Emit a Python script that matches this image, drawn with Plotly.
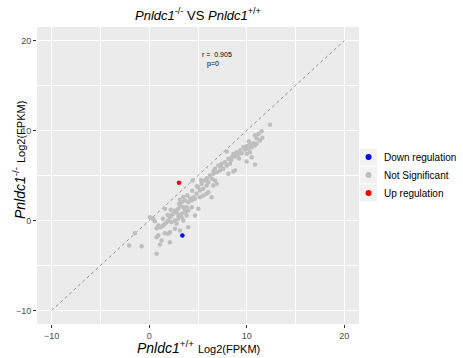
import plotly.graph_objects as go

# ---- data ----
ns_x = [12.38, 11.52, 10.84, 11.01, 11.59, 11.35, 10.67, 10.33, 9.99, 9.64, 9.82, 10.16, 10.50, 10.84, 11.01,
        9.30, 8.96, 8.62, 8.45, 8.79, 9.13, 9.47, 9.99, 10.33, 7.94, 9.99, 10.84, 10.50, 8.11, 7.76, 7.42,
        7.08, 6.74, 6.91, 7.25, 7.59, 7.94, 8.28, 8.11, 8.62, 8.79, 6.57, 6.23, 6.40, 6.74, 6.91, 6.57, 6.05,
        5.71, 5.88, 5.54, 5.20, 5.03, 5.37, 4.45, 4.86, 4.52, 4.17, 4.00, 4.35, 4.69, 5.20, 5.54, 5.88, 6.05,
        6.40, 3.66, 3.32, 3.15, 2.98, 2.81, 2.64, 2.46, 2.29, 3.49, 3.66, 3.83, 3.32, 2.98, 4.00, 4.35, 4.69,
        5.03, 3.15, 3.08, 1.61, 2.12, 1.95, 1.78, 1.61, 1.44, 1.27, 1.10, 0.93, 0.76, 2.29, 2.64, 2.98, 3.32,
        3.49, 3.83, 3.66, 0.07, 0.24, 0.41, 0.58, 2.81, 2.64, 4.00, 3.15, 2.12, 1.95, 1.61, 0.93, 0.76, 1.27,
        1.10, 2.12, 0.76, -2.05, -0.78, -1.47,
        8.40, 7.30, 6.60, 5.90, 5.30, 4.90, 4.40, 3.90, 3.50, 2.20, 1.90, 1.40, 9.20, 10.20, 11.20]
ns_y = [10.63, 9.93, 9.48, 9.15, 9.19, 8.89, 8.59, 8.41, 8.26, 8.15, 7.89, 7.96, 8.15, 8.33, 8.52,
        7.78, 7.59, 7.41, 7.04, 7.11, 7.30, 7.48, 7.41, 7.59, 7.67, 6.56, 6.22, 7.04, 6.85, 6.48, 6.30,
        6.11, 5.74, 5.37, 5.56, 5.74, 6.11, 6.30, 5.19, 5.44, 5.56, 5.19, 5.00, 4.63, 4.44, 4.07, 3.89, 4.26,
        4.44, 3.89, 3.52, 3.33, 3.70, 4.07, 4.44, 2.96, 2.59, 2.41, 2.04, 2.22, 2.41, 2.59, 2.78, 2.96, 3.15,
        2.59, 2.22, 2.04, 1.67, 1.30, 0.93, 1.11, 0.74, 0.56, 1.48, 1.11, 1.48, 0.74, 0.56, 1.11, 1.48, 0.56,
        1.30, 2.30, 1.85, 1.30, 0.37, 0.00, -0.19, -0.37, -0.56, -0.67, -0.74, -0.56, -0.85, -0.19, 0.00, 0.19, 0.37,
        0.00, 0.56, 0.93, 0.37, 0.26, 0.19, -0.07, -0.37, -0.93, -0.74, -1.11, -1.30, -1.48, -1.41, -1.67, -1.85, -2.22,
        -2.67, -2.41, -3.70, -2.78, -2.85, -1.41,
        6.70, 6.00, 5.50, 4.70, 4.50, 3.80, 3.30, 2.80, 2.60, 1.20, 0.60, 0.20, 6.90, 8.80, 9.60]
down_x = [3.40]
down_y = [-1.67]
up_x = [3.05]
up_y = [4.20]
diag = [-10, 20]
ticks = [-10, 0, 10, 20]
r_text = "r =  0.905"
p_text = "p=0"
legend_names = ["Down regulation", "Not Significant", "Up regulation"]
legend_colors = ["#0000FF", "#BEBEBE", "#FF0000"]

FONT = "Liberation Sans, Arial, sans-serif"
W, H = 463, 358
ML, MR, MT, MB = 37, 104, 27, 34
PW, PH = W - ML - MR, H - MT - MB


def px_x(px):
    return (px - ML) / PW


def px_y(py):
    return (H - MB - py) / PH


fig = go.Figure()
fig.add_trace(go.Scatter(x=diag, y=diag, mode="lines", showlegend=False, hoverinfo="skip",
                         line=dict(color="#7a7a7a", width=0.8, dash="dot")))
fig.add_trace(go.Scatter(x=down_x, y=down_y, mode="markers", name=legend_names[0], showlegend=False,
                         marker=dict(color=legend_colors[0], size=4.5, line=dict(width=0))))
fig.add_trace(go.Scatter(x=ns_x, y=ns_y, mode="markers", name=legend_names[1], showlegend=False,
                         marker=dict(color=legend_colors[1], size=4.5, line=dict(width=0))))
fig.add_trace(go.Scatter(x=up_x, y=up_y, mode="markers", name=legend_names[2], showlegend=False,
                         marker=dict(color=legend_colors[2], size=4.5, line=dict(width=0))))

axis_common = dict(range=[-11.5, 21.5], tickvals=ticks,
                   showgrid=True, gridcolor="white", gridwidth=1.1, zeroline=False,
                   ticks="outside", ticklen=3, tickcolor="#333333", tickwidth=0.8,
                   tickfont=dict(family=FONT, size=9, color="#4D4D4D"), showline=False,
                   minor=dict(dtick=5, tick0=-10, showgrid=True, gridcolor="white", gridwidth=0.5))
fig.update_xaxes(**axis_common)
fig.update_yaxes(**axis_common)

# manual legend (ggplot style keys)
for i, (name, col) in enumerate(zip(legend_names, legend_colors)):
    cy = 157 + 18 * i
    fig.add_shape(type="rect", xref="paper", yref="paper", line=dict(width=0),
                  fillcolor="#F2F2F2",
                  x0=px_x(360), x1=px_x(377), y0=px_y(cy + 8.5), y1=px_y(cy - 8.5))
    fig.add_shape(type="circle", xref="paper", yref="paper", line=dict(width=0),
                  fillcolor=col,
                  x0=px_x(365.5), x1=px_x(371.5), y0=px_y(cy + 3), y1=px_y(cy - 3))
    fig.add_annotation(text=name, xref="paper", yref="paper", x=px_x(382), y=px_y(cy),
                       xanchor="left", yanchor="middle", showarrow=False,
                       font=dict(family=FONT, size=10, color="black"))

fig.update_layout(
    width=W, height=H,
    margin=dict(l=ML, r=MR, t=MT, b=MB),
    paper_bgcolor="white", plot_bgcolor="#EBEBEB",
    font=dict(family=FONT, color="black"),
    showlegend=False,
    title=dict(text="<i>Pnldc1</i><sup>-/-</sup> VS <i>Pnldc1</i><sup>+/+</sup>",
               x=0.5, xref="paper", xanchor="center", y=1 - 15 / H, yanchor="middle",
               font=dict(family=FONT, size=13, color="black")),
)

fig.add_annotation(text=r_text, x=6.94, y=18.4, xref="x", yref="y", showarrow=False,
                   font=dict(family=FONT, size=7, color="black"))
fig.add_annotation(text=p_text, x=6.5, y=17.4, xref="x", yref="y", showarrow=False,
                   font=dict(family=FONT, size=7, color="black"))

fig.add_annotation(text="<i>Pnldc1</i><sup>+/+</sup> <span style='font-size:11px'>Log2(FPKM)</span>",
                   x=0.5, xref="paper", y=px_y(347), yref="paper", yanchor="middle",
                   showarrow=False, font=dict(family=FONT, size=14, color="black"))
fig.add_annotation(text="<i>Pnldc1</i><sup>-/-</sup> <span style='font-size:11px'>Log2(FPKM)</span>",
                   x=px_x(19), xref="paper", xanchor="center",
                   y=px_y(160), yref="paper",
                   yanchor="middle", textangle=-90,
                   showarrow=False, font=dict(family=FONT, size=14, color="black"))

fig.write_html("out.html")
